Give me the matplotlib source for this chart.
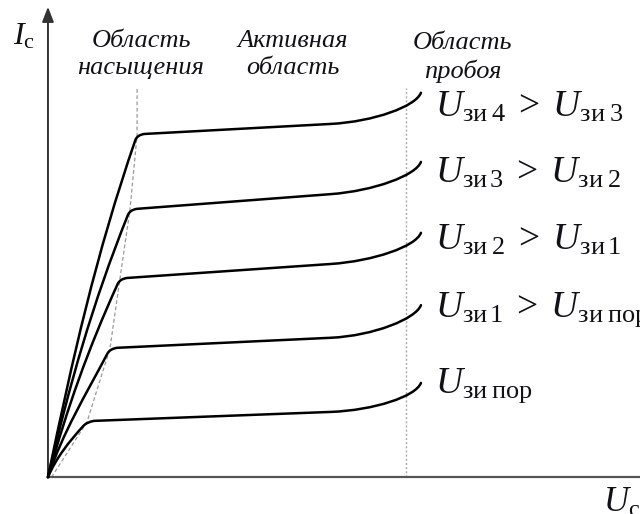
import numpy as np
import matplotlib.pyplot as plt
from matplotlib.path import Path
from matplotlib.patches import PathPatch

plt.rcParams['mathtext.fontset'] = 'custom'
plt.rcParams['mathtext.rm'] = 'Liberation Serif'
plt.rcParams['mathtext.it'] = 'Liberation Serif:italic'

# drain characteristics, from U_gs = threshold (bottom) up to U_gs4 (top)
labels = [r'$U_{\mathrm{зи\;пор}}$',
          r'$U_{\mathrm{зи\,1}}\;>\;U_{\mathrm{зи\;пор}}$',
          r'$U_{\mathrm{зи\;2}}\;>\;U_{\mathrm{зи\,1}}$',
          r'$U_{\mathrm{зи\,3}}\;>\;U_{\mathrm{зи\;2}}$',
          r'$U_{\mathrm{зи\;4}}\;>\;U_{\mathrm{зи\;3}}$']
knee_u = [1.09, 1.73, 2.01, 2.29, 2.49]
knee_i = [1.54, 3.58, 5.53, 7.46, 9.55]
flat_u = 7.9
flat_i = [1.82, 3.89, 5.95, 7.90, 9.86]
end_u = 10.42
end_i = [2.63, 4.80, 6.82, 8.80, 10.73]
start_slope = [2.3, 3.0, 3.6, 4.3, 4.8]
knee_slope = [1.1, 1.9, 2.2, 2.5, 2.9]

u_breakdown = 10.0
u_max = 16.54
i_max = 13.32

fig = plt.figure(figsize=(6.4, 5.14), dpi=100)
ax = fig.add_axes([0, 0, 1, 1])
ax.set_xlim(-1.34, u_max)
ax.set_ylim(-1.03, i_max)
ax.axis('off')

ink = '#111118'

# axes with arrow on the current axis
ax.plot([0, u_max], [0, 0], color='#555555', lw=1.6, solid_capstyle='butt', zorder=2)
ax.annotate('', xy=(0, 13.13), xytext=(0, 0),
            arrowprops=dict(arrowstyle='-|>,head_length=0.9,head_width=0.35',
                            color='#333333', lw=1.4, mutation_scale=10,
                            shrinkA=0, shrinkB=0))


def unit(slope):
    v = np.array([1.0, slope])
    return v / np.hypot(*v)


for k in range(len(labels)):
    K = np.array([knee_u[k], knee_i[k]])
    d0 = unit(start_slope[k])
    d1 = unit(knee_slope[k])
    k_pre = K - 0.15 * d1
    k_post = K + np.array([0.2, 0.03])
    L = 0.35 * np.hypot(*k_pre)
    M = np.array([flat_u, flat_i[k]])
    E = np.array([end_u, end_i[k]])
    tang = (M - k_post) / (M[0] - k_post[0])
    verts = [(0, 0), tuple(L * d0), tuple(k_pre - L * d1), tuple(k_pre),
             tuple(K), tuple(k_post),
             tuple(M),
             tuple(M + 1.2 * tang), tuple(E - np.array([0.14, 0.38])), tuple(E)]
    codes = [Path.MOVETO, Path.CURVE4, Path.CURVE4, Path.CURVE4,
             Path.CURVE3, Path.CURVE3,
             Path.LINETO,
             Path.CURVE4, Path.CURVE4, Path.CURVE4]
    ax.add_patch(PathPatch(Path(verts, codes), fill=False, ec='black', lw=1.8,
                           capstyle='round', joinstyle='round', zorder=3))

# saturation boundary through the knees, and breakdown boundary
sat_u = [0.1] + knee_u + [knee_u[-1]]
sat_i = [0.0] + knee_i + [10.9]
ax.plot(sat_u, sat_i, color='#999999', lw=0.9, ls=(0, (3, 2)), zorder=1)
ax.plot([u_breakdown, u_breakdown], [0, 10.87], color='#aaaaaa', lw=1.0,
        ls=(0, (1.5, 1.5)), zorder=1)

label_base = [2.35, 4.47, 6.34, 8.21, 10.06]
for k, txt in enumerate(labels):
    ax.text(10.81, label_base[k], txt, fontsize=27, color=ink,
            ha='left', va='baseline', clip_on=False)

region = dict(fontsize=19, color=ink, ha='center', va='center',
              family='Liberation Serif', style='italic', linespacing=1.3)
ax.text(2.6, 11.8, 'Область\nнасыщения', **region)
ax.text(6.84, 11.8, 'Активная\nобласть', **region)
ax.text(11.59, 11.72, 'Область\nпробоя', **region)

ax.text(-0.98, 12.07, r'$I_{\mathrm{с}}$', fontsize=23, color=ink,
        ha='left', va='baseline')
ax.text(15.5, -0.98, r'$U_{\mathrm{с}}$', fontsize=25, color=ink,
        ha='left', va='baseline', clip_on=False)

fig.savefig('out.png', dpi=100)
